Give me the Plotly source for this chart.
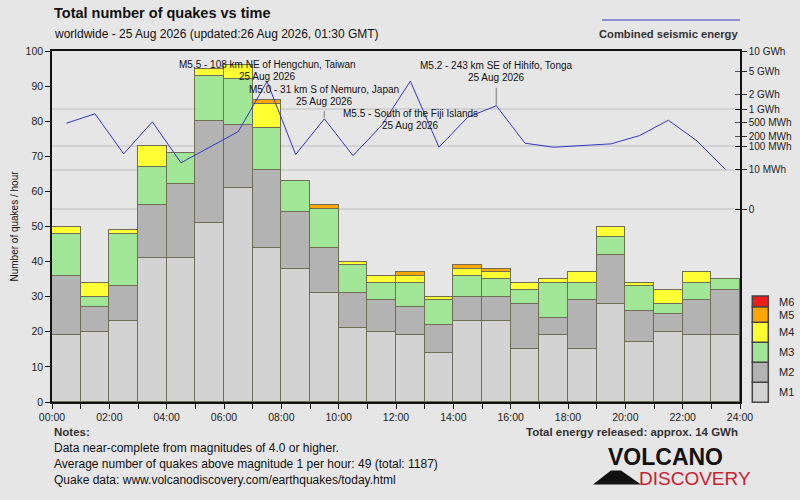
import plotly.graph_objects as go

# hourly counts per magnitude class (25 Aug 2026)
hours = list(range(24))
hour_labels = ["00:00", "02:00", "04:00", "06:00", "08:00", "10:00", "12:00",
               "14:00", "16:00", "18:00", "20:00", "22:00", "24:00"]

m1 = [19, 20, 23, 41, 41, 51, 61, 44, 38, 31, 21, 20, 19, 14, 23, 23, 15, 19, 15, 28, 17, 20, 19, 19]
m2 = [17, 7, 10, 15, 21, 29, 18, 22, 16, 13, 10, 9, 8, 8, 7, 7, 13, 5, 14, 14, 9, 5, 10, 13]
m3 = [12, 3, 15, 11, 9, 13, 13, 12, 9, 11, 8, 5, 7, 7, 6, 5, 4, 10, 5, 5, 7, 3, 5, 3]
m4 = [2, 4, 1, 6, 0, 2, 4, 7, 0, 0, 1, 2, 2, 1, 2, 2, 2, 1, 3, 3, 1, 4, 3, 0]
m5 = [0, 0, 0, 0, 0, 0, 0, 1, 0, 1, 0, 0, 1, 0, 1, 1, 0, 0, 0, 0, 0, 0, 0, 0]
m6 = [0, 0, 0, 0, 0, 0, 0, 0, 0, 0, 0, 0, 0, 0, 0, 0, 0, 0, 0, 0, 0, 0, 0, 0]

# combined seismic energy per hour, MWh
energy_mwh = [476, 800, 53, 516, 22, 95, 287, 3440, 50, 610, 45, 420,
              3480, 93, 667, 1200, 127, 93, 106, 121, 220, 565, 151, 10]

energy_ticks = [0, 10, 100, 200, 500, 1000, 2000, 5000, 10000]
energy_tick_labels = ["0", "10 MWh", "100 MWh", "200 MWh", "500 MWh",
                      "1 GWh", "2 GWh", "5 GWh", "10 GWh"]
energy_major = [0, 10, 100, 1000, 10000]
energy_minor = [200, 500, 2000, 5000]

quake_text = ["M5.5 - 108 km NE of Hengchun, Taiwan",
              "M5.0 - 31 km S of Nemuro, Japan",
              "M5.5 - South of the Fiji Islands",
              "M5.2 - 243 km SE of Hihifo, Tonga"]
quake_date = ["25 Aug 2026", "25 Aug 2026", "25 Aug 2026", "25 Aug 2026"]
quake_hour = [7, 9, 12, 15]

# label placement (pixels relative to the energy point, up = positive)
label_shift = [(17, 5), (29.5, 17.5), (-32, -44), (40.5, 28.5)]
pointer = [None, (1, 8), None, (0, 18)]

names = ["M1", "M2", "M3", "M4", "M5", "M6"]
colors = ["#d3d3d3", "#b3b3b3", "#a0e696", "#ffff33", "#ffa500", "#ee1c1c"]
FONT = "Liberation Sans, Arial, sans-serif"


def u(e):
    # right axis is drawn on a fifth-root scale of the energy
    return e ** 0.2


W, H = 800, 500
L, R, T, B = 52, 60, 51, 98


def px(x):
    return (x - L) / (W - L - R)


def py(y):
    return (H - B - y) / (H - T - B)


xc = [h + 0.5 for h in hours]

fig = go.Figure()
for name, vals, col in zip(names, [m1, m2, m3, m4, m5, m6], colors):
    fig.add_trace(go.Bar(
        x=xc, y=[v if v else None for v in vals], width=1, name=name,
        marker=dict(color=col, line=dict(color="#6e6e55", width=1.5)),
        showlegend=False,
    ))

fig.add_trace(go.Scatter(
    x=xc, y=[u(e) for e in energy_mwh], yaxis="y2", mode="lines",
    line=dict(color="#3636c8", width=1), showlegend=False,
))
fig.add_trace(go.Scatter(x=[None], y=[None], yaxis="y3", showlegend=False))

lo = u(10000) - (H - T - B) / 25.1
hi = u(10000)

annotations = []
shapes = []

for txt, dt, hr, (s1, s2), ptr in zip(quake_text, quake_date, quake_hour, label_shift, pointer):
    yy = u(energy_mwh[hr])
    for t, s in ((txt, s1), (dt, s2)):
        annotations.append(dict(
            x=hr + 0.5, y=yy, xref="x", yref="y2", text=t, showarrow=False,
            yshift=s, xanchor="center", yanchor="middle",
            font=dict(size=10, color="#111", family=FONT),
        ))
    if ptr:
        shapes.append(dict(
            type="line", xref="x", yref="y2", ysizemode="pixel", yanchor=yy,
            x0=hr + 0.5, x1=hr + 0.5, y0=ptr[0], y1=ptr[1],
            line=dict(color="#9a9a9a", width=1.5),
        ))


def text(x, y, t, size, bold=False, anchor="left", color="#222"):
    annotations.append(dict(
        x=px(x), y=py(y), xref="paper", yref="paper",
        text="<b>%s</b>" % t if bold else t, showarrow=False,
        xanchor=anchor, yanchor="middle",
        font=dict(size=size, color=color, family=FONT),
    ))


text(52, 12.5, "Total number of quakes vs time", 14.5, bold=True, color="#111")
text(52, 34, "worldwide - 25 Aug 2026 (updated:26 Aug 2026, 01:30 GMT)", 12, color="#111")
text(740, 34, "Combined seismic energy", 11.2, bold=True, anchor="right", color="#333")
shapes.append(dict(type="line", xref="paper", yref="paper", x0=px(602), x1=px(740),
                   y0=py(20), y1=py(20), line=dict(color="#3636c8", width=1)))

text(52, 432, "Notes:", 11.5, bold=True, color="#333")
text(52, 448, "Data near-complete from magnitudes of 4.0 or higher.", 12, color="#111")
text(52, 464, "Average number of quakes above magnitude 1 per hour: 49 (total: 1187)", 12, color="#111")
text(52, 480, "Quake data: www.volcanodiscovery.com/earthquakes/today.html", 12, color="#111")
text(740, 432, "Total energy released: approx. 14 GWh", 11.5, bold=True, anchor="right", color="#333")

# magnitude legend
box_edges = [402.3, 382.3, 362.3, 342.3, 322.3, 306.7, 296]
for i, (name, col) in enumerate(zip(names, colors)):
    y_bot, y_top = box_edges[i], box_edges[i + 1]
    shapes.append(dict(type="rect", xref="paper", yref="paper",
                       x0=px(752.3), x1=px(768.3), y0=py(y_bot), y1=py(y_top),
                       fillcolor=col, line=dict(color="#444", width=1.5)))
    text(776.5, (y_bot + y_top) / 2 + (0 if i < 5 else 1), name, 11, color="#222")

# logo
text(606, 457.5, "VOLCANO", 23, bold=True, color="#111")
text(753, 478, "DISCOVERY", 19, anchor="right", color="#c8202f")
shapes.append(dict(
    type="path", xref="paper", yref="paper",
    path="M %f %f L %f %f L %f %f L %f %f Z" % (
        px(593), py(484.5), px(611), py(470.5), px(621), py(470.5), px(641), py(484.5)),
    fillcolor="#111", line=dict(width=0),
))

fig.update_layout(
    width=W, height=H,
    margin=dict(l=L, r=R, t=T, b=B, autoexpand=False),
    paper_bgcolor="#e6e6e6", plot_bgcolor="#e6e6e6",
    barmode="stack", bargap=0,
    font=dict(family=FONT, size=10, color="#222"),
    xaxis=dict(
        range=[0, 24], tickvals=list(range(0, 25, 2)), ticktext=hour_labels,
        ticks="outside", ticklen=5, tickcolor="#111", showline=True,
        linecolor="#111", linewidth=1.5, mirror=True, showgrid=False, zeroline=False,
        tickfont=dict(size=10.5, color="#222"),
        minor=dict(tickvals=hours, ticks="outside", ticklen=5, tickcolor="#111"),
    ),
    yaxis=dict(
        range=[0, 100], dtick=10, ticks="outside", ticklen=5, tickcolor="#111",
        showline=True, linecolor="#111", linewidth=1.5, showgrid=False, zeroline=False,
        tickfont=dict(size=10.5, color="#222"),
        title=dict(text="Number of quakes / hour", standoff=5, font=dict(size=10, color="#111")),
    ),
    yaxis2=dict(
        overlaying="y", side="right", range=[lo, hi],
        tickvals=[u(v) for v in energy_ticks], ticktext=energy_tick_labels,
        ticks="outside", ticklen=5, tickcolor="#222", showline=True,
        linecolor="#111", linewidth=1.5, showgrid=False, zeroline=False,
        tickfont=dict(size=10, color="#222"),
    ),
    yaxis3=dict(
        overlaying="y", side="right", range=[lo, hi],
        tickvals=[u(v) for v in energy_major], ticks="inside", ticklen=5,
        tickcolor="#111", showticklabels=False, showline=False, zeroline=False,
        showgrid=True, gridcolor="#d2d2d2", gridwidth=1.5,
        minor=dict(tickvals=[u(v) for v in energy_minor], ticks="inside",
                   ticklen=5, tickcolor="#555", showgrid=False),
    ),
    annotations=annotations, shapes=shapes,
)

fig.write_html("out.html", config={"displayModeBar": False},
               post_script="document.body.style.margin='0';")
